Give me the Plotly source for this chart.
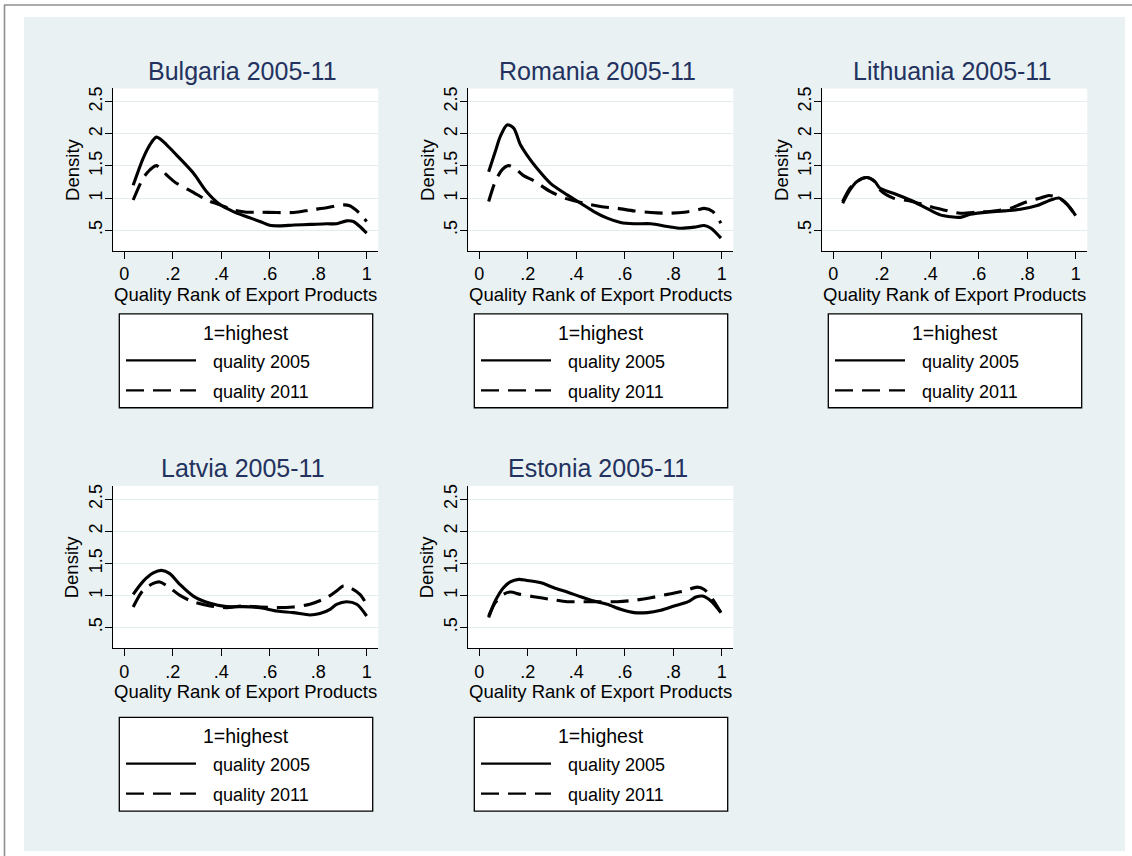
import plotly.graph_objects as go

W, H = 1132, 856

# ---------------- data ----------------
countries = ["Bulgaria", "Romania", "Lithuania", "Latvia", "Estonia"]
period = "2005-11"
series_names = ["quality 2005", "quality 2011"]
legend_title = "1=highest"
x_title = "Quality Rank of Export Products"
y_title = "Density"
x_tickvals = [0, 0.2, 0.4, 0.6, 0.8, 1.0]
x_ticktext = ["0", ".2", ".4", ".6", ".8", "1"]
y_tickvals = [0.5, 1.0, 1.5, 2.0, 2.5]
y_ticktext = [".5", "1", "1.5", "2", "2.5"]

bulgaria_x_2005 = [0.037, 0.078, 0.106, 0.133, 0.175, 0.216, 0.285, 0.34, 0.395, 0.45, 0.505, 0.56, 0.60, 0.64, 0.70, 0.77, 0.835, 0.876, 0.917, 0.945, 0.972, 1.0]
bulgaria_y_2005 = [1.20, 1.62, 1.83, 1.95, 1.83, 1.67, 1.39, 1.10, 0.90, 0.79, 0.71, 0.635, 0.575, 0.567, 0.58, 0.59, 0.60, 0.60, 0.645, 0.635, 0.557, 0.453]
bulgaria_x_2011 = [0.037, 0.078, 0.106, 0.133, 0.175, 0.216, 0.285, 0.34, 0.395, 0.45, 0.505, 0.56, 0.63, 0.70, 0.77, 0.835, 0.904, 0.93, 0.972, 1.0]
bulgaria_y_2011 = [0.97, 1.31, 1.44, 1.505, 1.36, 1.23, 1.09, 0.97, 0.894, 0.816, 0.78, 0.78, 0.775, 0.775, 0.816, 0.85, 0.894, 0.88, 0.76, 0.635]

romania_x_2005 = [0.039, 0.066, 0.087, 0.115, 0.142, 0.17, 0.197, 0.239, 0.294, 0.363, 0.418, 0.473, 0.528, 0.583, 0.639, 0.708, 0.777, 0.832, 0.887, 0.928, 0.956, 0.997]
romania_y_2005 = [1.41, 1.72, 1.96, 2.14, 2.09, 1.83, 1.67, 1.46, 1.23, 1.05, 0.92, 0.79, 0.687, 0.62, 0.60, 0.60, 0.557, 0.53, 0.547, 0.573, 0.53, 0.376]
romania_x_2011 = [0.039, 0.066, 0.094, 0.121, 0.149, 0.183, 0.225, 0.294, 0.363, 0.432, 0.50, 0.57, 0.639, 0.708, 0.777, 0.846, 0.90, 0.928, 0.963, 0.997]
romania_y_2011 = [0.946, 1.256, 1.44, 1.505, 1.46, 1.35, 1.27, 1.10, 0.987, 0.92, 0.868, 0.84, 0.80, 0.775, 0.764, 0.78, 0.816, 0.84, 0.79, 0.61]

lithuania_x_2005 = [0.039, 0.069, 0.097, 0.138, 0.172, 0.193, 0.248, 0.317, 0.386, 0.441, 0.483, 0.524, 0.566, 0.634, 0.703, 0.772, 0.841, 0.897, 0.931, 0.966, 1.0]
lithuania_y_2005 = [0.92, 1.127, 1.256, 1.32, 1.256, 1.153, 1.075, 0.97, 0.84, 0.738, 0.71, 0.70, 0.749, 0.78, 0.80, 0.826, 0.883, 0.97, 1.0, 0.90, 0.728]
lithuania_x_2011 = [0.039, 0.069, 0.097, 0.138, 0.172, 0.193, 0.248, 0.317, 0.386, 0.455, 0.524, 0.593, 0.662, 0.731, 0.80, 0.855, 0.89, 0.931, 0.966, 1.0]
lithuania_y_2011 = [0.946, 1.153, 1.256, 1.32, 1.256, 1.127, 1.0, 0.956, 0.883, 0.816, 0.764, 0.78, 0.80, 0.842, 0.946, 1.0, 1.04, 1.0, 0.894, 0.728]

latvia_x_2005 = [0.037, 0.078, 0.12, 0.154, 0.188, 0.23, 0.285, 0.354, 0.422, 0.491, 0.56, 0.629, 0.697, 0.766, 0.807, 0.849, 0.876, 0.917, 0.959, 1.0]
latvia_y_2005 = [1.017, 1.22, 1.35, 1.39, 1.34, 1.17, 0.99, 0.877, 0.826, 0.826, 0.81, 0.758, 0.733, 0.696, 0.717, 0.784, 0.862, 0.903, 0.862, 0.68]
latvia_x_2011 = [0.037, 0.078, 0.12, 0.147, 0.188, 0.23, 0.285, 0.354, 0.422, 0.491, 0.56, 0.629, 0.697, 0.766, 0.835, 0.876, 0.904, 0.931, 0.972, 1.0]
latvia_y_2011 = [0.82, 1.08, 1.187, 1.21, 1.12, 1.0, 0.90, 0.836, 0.81, 0.836, 0.82, 0.81, 0.82, 0.862, 0.965, 1.07, 1.146, 1.12, 1.017, 0.862]

estonia_x_2005 = [0.039, 0.066, 0.10, 0.128, 0.163, 0.197, 0.252, 0.308, 0.363, 0.418, 0.473, 0.528, 0.583, 0.639, 0.694, 0.749, 0.804, 0.86, 0.894, 0.921, 0.956, 0.997]
estonia_y_2005 = [0.655, 0.913, 1.12, 1.21, 1.25, 1.234, 1.20, 1.12, 1.053, 0.98, 0.913, 0.862, 0.784, 0.733, 0.733, 0.77, 0.836, 0.90, 0.975, 0.99, 0.913, 0.733]
estonia_x_2011 = [0.039, 0.066, 0.10, 0.128, 0.17, 0.225, 0.294, 0.363, 0.432, 0.50, 0.57, 0.639, 0.708, 0.777, 0.846, 0.90, 0.928, 0.963, 0.997]
estonia_y_2011 = [0.68, 0.888, 1.017, 1.053, 1.017, 0.98, 0.94, 0.903, 0.903, 0.903, 0.903, 0.924, 0.965, 1.017, 1.07, 1.13, 1.094, 0.94, 0.733]

panel_data = {
    "Bulgaria": [(bulgaria_x_2005, bulgaria_y_2005), (bulgaria_x_2011, bulgaria_y_2011)],
    "Romania": [(romania_x_2005, romania_y_2005), (romania_x_2011, romania_y_2011)],
    "Lithuania": [(lithuania_x_2005, lithuania_y_2005), (lithuania_x_2011, lithuania_y_2011)],
    "Latvia": [(latvia_x_2005, latvia_y_2005), (latvia_x_2011, latvia_y_2011)],
    "Estonia": [(estonia_x_2005, estonia_y_2005), (estonia_x_2011, estonia_y_2011)],
}

# ---------------- styling / layout ----------------
FONT = "Liberation Sans, Arial, sans-serif"
TITLE_COLOR = "#23325e"
REGION_BG = "#e9f1f3"
GRID_COLOR = "#e3ecef"
DASH = "18px,9px"

cols_left = [113.3, 468.3, 822.3]
rows_top = [86.7, 485.0]
plot_w, plot_h = 265.0, 162.6
x_range = [-0.045, 1.048]
y_range = [0.18, 2.707]
xtitle_off = [43.5, 43.5]
legend_top = [312.7, 717.0]
legend_h = 94.0


def fx(p):
    return p / W


def fy(p):
    return 1 - p / H


fig = go.Figure()
shapes = []
annotations = []

# outer frame and graph region
shapes.append(dict(type="line", xref="paper", yref="paper", x0=fx(4.5), x1=fx(4.5), y0=fy(3), y1=fy(860),
                   line=dict(color="#8f8f8f", width=1.6), layer="below"))
shapes.append(dict(type="line", xref="paper", yref="paper", x0=fx(4), x1=fx(1140), y0=fy(3), y1=fy(3),
                   line=dict(color="#8f8f8f", width=1.6), layer="below"))
shapes.append(dict(type="rect", xref="paper", yref="paper", x0=fx(24), x1=fx(1125), y0=fy(15), y1=fy(851),
                   fillcolor=REGION_BG, line=dict(width=0), layer="below"))

layout_axes = {}
for i, country in enumerate(countries):
    row, col = divmod(i, 3)
    left = cols_left[col]
    top = rows_top[row]
    right = left + plot_w
    bottom = top + plot_h
    k = "" if i == 0 else str(i + 1)
    xa, ya = "x" + k, "y" + k

    # white plot area
    shapes.append(dict(type="rect", xref="paper", yref="paper", x0=fx(left), x1=fx(right), y0=fy(bottom), y1=fy(top),
                       fillcolor="white", line=dict(width=0), layer="below"))

    for (xs, ys), name, dash in zip(panel_data[country], series_names, ["solid", DASH]):
        fig.add_trace(go.Scatter(x=xs, y=ys, mode="lines", name=name, showlegend=False,
                                 xaxis=xa, yaxis=ya, hoverinfo="skip",
                                 line=dict(color="black", width=3.1, dash=dash, shape="spline", smoothing=0.8)))

    layout_axes["xaxis" + k] = dict(
        domain=[fx(left), fx(right)], range=x_range, anchor=ya,
        tickvals=x_tickvals, ticktext=x_ticktext, ticks="outside", ticklen=7, tickwidth=1.3, tickcolor="black",
        showline=True, linecolor="black", linewidth=1.3, showgrid=False, zeroline=False,
        tickfont=dict(family=FONT, size=18, color="black"), fixedrange=True)
    layout_axes["yaxis" + k] = dict(
        domain=[fy(bottom), fy(top)], range=y_range, anchor=xa,
        tickvals=y_tickvals, ticktext=y_ticktext, tickangle=-90, ticks="outside", ticklen=7, tickwidth=1.3,
        tickcolor="black", showline=True, linecolor="black", linewidth=1.3, ticklabelstandoff=-4,
        showgrid=True, gridcolor=GRID_COLOR, gridwidth=1, zeroline=False,
        tickfont=dict(family=FONT, size=18, color="black"), fixedrange=True)

    cx = (left + right) / 2
    # panel title
    annotations.append(dict(text=f"{country} {period}", xref="paper", yref="paper", x=fx(cx - 3), y=fy(top - 18),
                            xanchor="center", yanchor="middle", showarrow=False,
                            font=dict(family=FONT, size=25, color=TITLE_COLOR)))
    # axis titles
    annotations.append(dict(text=x_title, xref="paper", yref="paper", x=fx(cx), y=fy(bottom + xtitle_off[row]),
                            xanchor="center", yanchor="middle", showarrow=False,
                            font=dict(family=FONT, size=18.5, color="black")))
    annotations.append(dict(text=y_title, xref="paper", yref="paper", x=fx(left - 41), y=fy((top + bottom) / 2),
                            xanchor="center", yanchor="middle", showarrow=False, textangle=-90,
                            font=dict(family=FONT, size=18.5, color="black")))

    # legend box
    lt = legend_top[row]
    ll, lr = left + 6, right - 5.6
    shapes.append(dict(type="rect", xref="paper", yref="paper", x0=fx(ll), x1=fx(lr), y0=fy(lt + legend_h), y1=fy(lt),
                       fillcolor="white", line=dict(color="black", width=1.3), layer="above"))
    annotations.append(dict(text=legend_title, xref="paper", yref="paper", x=fx((ll + lr) / 2), y=fy(lt + 19),
                            xanchor="center", yanchor="middle", showarrow=False,
                            font=dict(family=FONT, size=19.5, color="black")))
    for j, (name, dash) in enumerate(zip(series_names, ["solid", DASH])):
        yy = lt + 46.5 + j * 30
        shapes.append(dict(type="line", xref="paper", yref="paper", x0=fx(ll + 6.7), x1=fx(ll + 76.7),
                           y0=fy(yy), y1=fy(yy), line=dict(color="black", width=2.2, dash=dash), layer="above"))
        annotations.append(dict(text=name, xref="paper", yref="paper", x=fx(ll + 91.4), y=fy(yy + 1.5),
                                xanchor="left", yanchor="middle", showarrow=False,
                                font=dict(family=FONT, size=18, color="black")))

fig.update_layout(
    width=W, height=H, margin=dict(l=0, r=0, t=0, b=0),
    paper_bgcolor="white", plot_bgcolor="white",
    shapes=shapes, annotations=annotations, showlegend=False,
    font=dict(family=FONT, color="black"),
    **layout_axes,
)

fig.write_html("out.html", config={"displayModeBar": False})
